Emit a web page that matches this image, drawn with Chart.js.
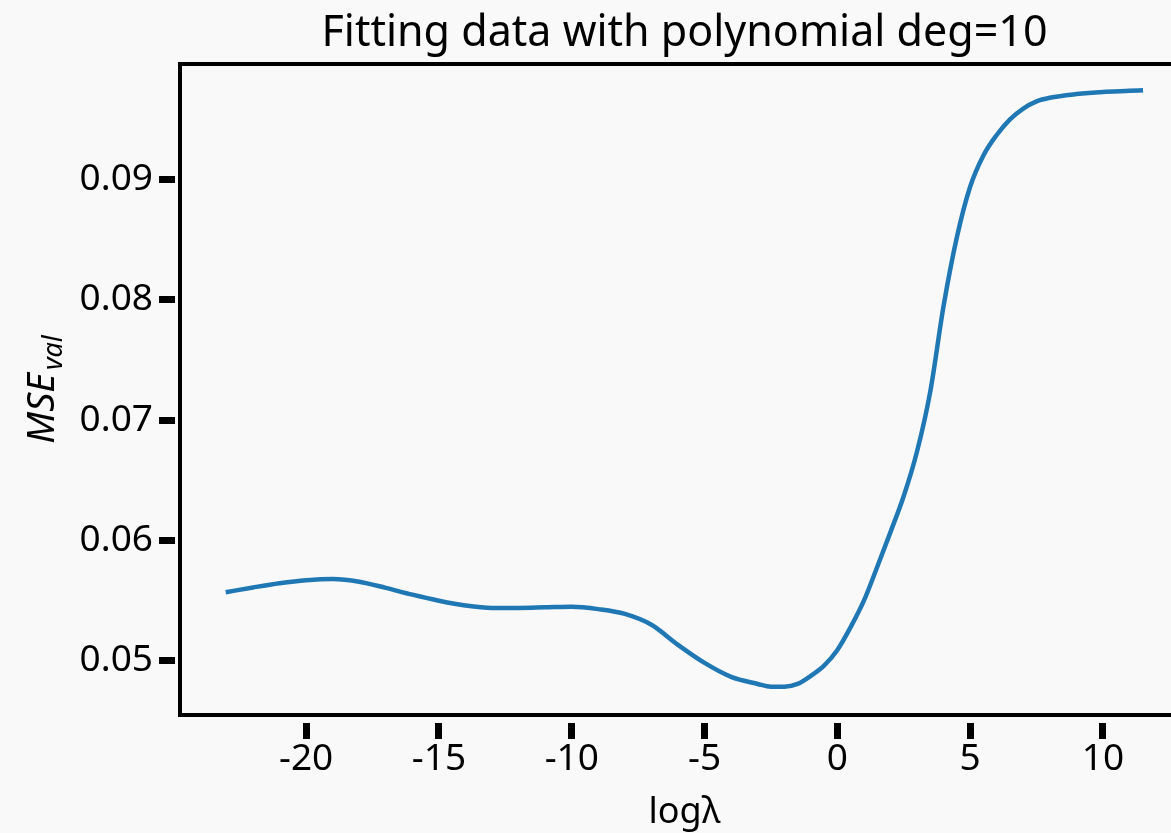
<!DOCTYPE html>
<html>
<head>
<meta charset="utf-8">
<script src="https://cdn.jsdelivr.net/npm/chart.js@4.4.1/dist/chart.umd.min.js"></script>
<style>
  html, body { margin: 0; padding: 0; background: #f9f9f9; overflow: hidden; }
  #wrap { width: 1210px; height: 833px; }
</style>
</head>
<body>
<div id="wrap"><canvas id="mseChart" width="1210" height="833"></canvas></div>
<script>
const titleText = 'Fitting data with polynomial deg=10';
const xLabel = 'logλ';

const logLambda = [-23.03, -22, -21, -20, -19, -18, -17, -16, -15, -14, -13, -12, -11, -10, -9, -8, -7, -6, -5, -4, -3, -2.5, -2, -1.5, -1, -0.5, 0, 0.5, 1, 1.5, 2, 2.5, 3, 3.5, 4, 4.5, 5, 5.5, 6, 6.5, 7, 7.5, 8, 9, 10, 11, 11.51];
const mseVal = [0.0557, 0.0561, 0.05645, 0.0567, 0.0568, 0.05658, 0.05606, 0.0555, 0.0550, 0.0546, 0.0544, 0.0544, 0.05445, 0.0545, 0.0543, 0.0539, 0.0530, 0.05133, 0.04983, 0.04867, 0.04808, 0.04785, 0.04785, 0.04808, 0.04875, 0.0496, 0.0509, 0.0528, 0.0550, 0.0578, 0.0607, 0.0637, 0.0674, 0.0724, 0.0795, 0.0852, 0.0894, 0.0920, 0.0937, 0.0950, 0.0959, 0.0965, 0.0968, 0.0971, 0.09728, 0.09737, 0.09742];

const xTicks = [-20, -15, -10, -5, 0, 5, 10];
const yTicks = [0.05, 0.06, 0.07, 0.08, 0.09];

const FONT = '"Noto Sans", "DejaVu Sans", sans-serif';

// title and the y label with its subscript, drawn on the canvas
const labelPlugin = {
    id: 'labelPlugin',
    afterDraw: function(chart) {
        const c = chart.ctx;
        const area = chart.chartArea;
        c.save();
        c.fillStyle = '#000';
        c.font = '43px ' + FONT;
        c.textAlign = 'center';
        c.textBaseline = 'middle';
        c.fillText(titleText, (area.left + area.right) / 2, 34);

        c.translate(54, (area.top + area.bottom) / 2);
        c.rotate(-Math.PI / 2);
        c.textAlign = 'left';
        c.textBaseline = 'alphabetic';
        c.font = 'italic 38px ' + FONT;
        const w1 = c.measureText('MSE').width;
        c.font = 'italic 27px ' + FONT;
        const w2 = c.measureText('val').width;
        const start = -(w1 + w2 + 3) / 2;
        c.font = 'italic 38px ' + FONT;
        c.fillText('MSE', start, 0);
        c.font = 'italic 27px ' + FONT;
        c.fillText('val', start + w1 + 3, 8);
        c.restore();
    }
};

const ctx = document.getElementById('mseChart');
const points = logLambda.map((x, i) => ({ x: x, y: mseVal[i] }));

new Chart(ctx.getContext('2d'), {
    type: 'line',
    data: {
        datasets: [{
            data: points,
            borderColor: '#1f77b4',
            borderWidth: 4.5,
            pointRadius: 0,
            cubicInterpolationMode: 'monotone',
            fill: false
        }]
    },
    options: {
        responsive: false,
        animation: false,
        layout: { padding: { top: 64, right: 21, left: 0, bottom: 0 } },
        plugins: {
            legend: { display: false },
            tooltip: { enabled: false }
        },
        scales: {
            x: {
                type: 'linear',
                position: 'bottom',
                min: -24.75,
                max: 13.24,
                afterBuildTicks: function(scale) {
                    scale.ticks = xTicks.map(v => ({ value: v }));
                },
                afterFit: function(scale) { scale.height = 118; },
                grid: {
                    drawOnChartArea: false,
                    drawTicks: true,
                    tickLength: 24,
                    tickWidth: 7,
                    tickColor: '#000',
                    tickBorderDash: [0, 6, 16, 200]
                },
                border: { display: true, color: '#000', width: 4 },
                ticks: {
                    color: '#000',
                    font: { family: FONT, size: 37, lineHeight: 1.1 },
                    padding: 0,
                    maxRotation: 0,
                    callback: function(v) { return String(v); }
                },
                title: {
                    display: true,
                    text: xLabel,
                    color: '#000',
                    font: { family: FONT, size: 36, lineHeight: 1.0 },
                    padding: { top: 0, bottom: 2 }
                }
            },
            xTop: {
                type: 'linear',
                position: 'top',
                min: -24.75,
                max: 13.24,
                afterFit: function(scale) { scale.height = 0; },
                grid: { display: false, drawTicks: false },
                border: { display: true, color: '#000', width: 4 },
                ticks: { display: false }
            },
            y: {
                type: 'linear',
                min: 0.0455,
                max: 0.0996,
                afterBuildTicks: function(scale) {
                    scale.ticks = yTicks.map(v => ({ value: v }));
                },
                afterFit: function(scale) { scale.width = 180; },
                grid: {
                    drawOnChartArea: false,
                    drawTicks: true,
                    tickLength: 21,
                    tickWidth: 7,
                    tickColor: '#000',
                    tickBorderDash: [16, 200]
                },
                border: { display: true, color: '#000', width: 4 },
                ticks: {
                    color: '#000',
                    font: { family: FONT, size: 37 },
                    padding: 6,
                    callback: function(v) { return v.toFixed(2); }
                }
            }
        }
    },
    plugins: [labelPlugin]
});
</script>
</body>
</html>
